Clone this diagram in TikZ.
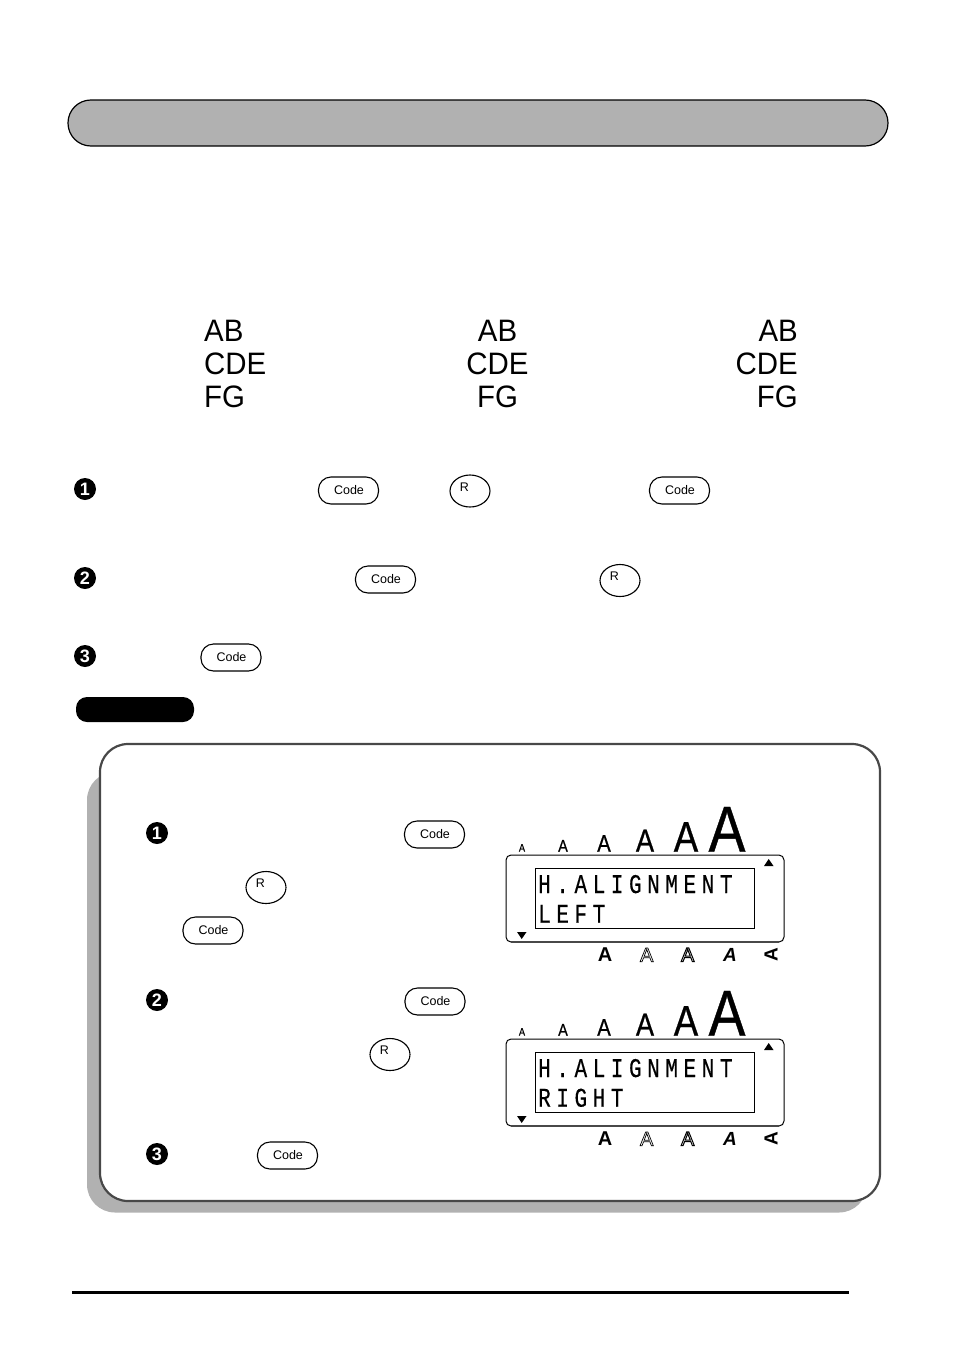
\documentclass[tikz,border=0pt]{standalone}
\usepackage{fontspec}
\usepackage{tikz}
\usetikzlibrary{shapes,positioning}
\setmainfont{Liberation Sans}
\newfontfamily\sizefont[FakeStretch=0.85,FakeBold=0.6]{Liberation Sans}
\newfontfamily\abcfont[FakeStretch=0.95]{Liberation Sans}
\newfontfamily\lcdfont[FakeStretch=0.78,FakeBold=0.3,LetterSpace=20.5]{Liberation Mono}
\newcommand{\fsz}[1]{\fontsize{#1}{#1}\selectfont}
\newcommand{\outlinetext}[2]{\special{pdf:code 1 Tr #1 w}#2\special{pdf:code 0 Tr 1 w}}
\newcommand{\rcap}{\smash{R}\kern11pt}
\newcommand{\codecap}{\kern1pt\raisebox{-0.5pt}{Code}}
\definecolor{bargray}{HTML}{B1B1B1}
\definecolor{rimgray}{HTML}{484848}
\tikzset{
  codekey/.style={draw=black,line width=1.1pt,fill=white,rectangle,rounded corners=12.5pt,minimum width=60pt,minimum height=27pt,inner sep=0pt,font=\fsz{12.5}},
  rkey/.style={draw=black,line width=1.1pt,fill=white,ellipse,minimum width=40pt,minimum height=32pt,inner sep=0pt,font=\fsz{12.5}},
  stepdot/.style={circle,fill=black,text=white,minimum size=22pt,inner sep=0pt,font=\bfseries\fsz{18}},
  glyph/.style={anchor=base,inner sep=0pt},
  abc/.style={inner sep=0pt,font=\abcfont\fsz{31}},
  lcdbox/.style={draw=black,line width=1pt,rounded corners=5pt},
  lcdrow/.style={anchor=base west,inner sep=0pt,font=\lcdfont\fsz{27}}
}
\begin{document}
\begin{tikzpicture}[x=1pt,y=-1pt]
\useasboundingbox (0,0) rectangle (954,1357);

% title bar
\draw [fill=bargray,line width=1.2pt,rounded corners=22.9pt] (68,100) rectangle (888,146);

% alignment samples
\node (ableft) [abc,anchor=base west] at (204,341) {AB};
\node (cdeleft) [abc,anchor=base west] at (204,374) {CDE};
\node (fgleft) [abc,anchor=base west] at (204,407) {FG};
\node (abmid) [abc,anchor=base] at (497.5,341) {AB};
\node (cdemid) [abc,anchor=base] at (497.5,374) {CDE};
\node (fgmid) [abc,anchor=base] at (497.5,407) {FG};
\node (abright) [abc,anchor=base east] at (798,341) {AB};
\node (cderight) [abc,anchor=base east] at (798,374) {CDE};
\node (fgright) [abc,anchor=base east] at (798,407) {FG};

% steps above the panel
\node (stepa) [stepdot] at (85,489) {1};
\node (stepb) [stepdot] at (85,578) {2};
\node (stepc) [stepdot] at (85,656) {3};
\node (codea) [codekey] at (348.5,490.5) {\codecap};
\node (ra) [rkey] at (470,491) {\rcap};
\node (codeb) [codekey] at (679.5,490.5) {\codecap};
\node (codec) [codekey] at (385.5,579.5) {\codecap};
\node (rb) [rkey] at (620,580.5) {\rcap};
\node (coded) [codekey] at (231,657.5) {\codecap};
\fill [rounded corners=11pt] (76,697) rectangle (194,722);

% panel with its shadow
\fill [bargray,rounded corners=28pt] (87,772) rectangle (867,1212.5);
\draw [fill=white,draw=rimgray,line width=2.2pt,rounded corners=28pt] (100,744) rectangle (880,1201);

\node (stepd) [stepdot] at (157,833) {1};
\node (stepe) [stepdot] at (157,1000) {2};
\node (stepf) [stepdot] at (157,1154) {3};
\node (codee) [codekey] at (434.5,834.5) {\codecap};
\node (rc) [rkey] at (266,887.5) {\rcap};
\node (codef) [codekey] at (213,930.5) {\codecap};
\node (codeg) [codekey] at (435,1001.5) {\codecap};
\node (rd) [rkey] at (390,1054.5) {\rcap};
\node (codeh) [codekey] at (287.5,1155.5) {\codecap};

% first display
\node (sizeaa) [glyph,font=\sizefont\fsz{11}] at (522,851.7) {A};
\node (sizeab) [glyph,font=\sizefont\fsz{17}] at (563,851.7) {A};
\node (sizeac) [glyph,font=\sizefont\fsz{24}] at (604,851.7) {A};
\node (sizead) [glyph,font=\sizefont\fsz{32}] at (645,851.7) {A};
\node (sizeae) [glyph,font=\sizefont\fsz{43}] at (686,851.7) {A};
\node (sizeaf) [glyph,font=\sizefont\fsz{65}] at (727,851.7) {A};
\draw [lcdbox] (506,855) rectangle (784,942);
\draw [rimgray,line width=1.6pt] (511,942) -- (779,942);
\draw [draw=black,line width=1pt] (535,868) rectangle (754.5,928);
\fill (768.7,859) -- (773.5,866) -- (764,866) -- cycle;
\fill (517,932) -- (526.5,932) -- (521.7,939) -- cycle;
\node (rowaa) [lcdrow] at (538,893) {H.ALIGNMENT};
\node (rowab) [lcdrow] at (538,922.7) {LEFT};
\node (stylaa) [glyph,font=\bfseries\fsz{20}] at (605,961.7) {A};
\node (stylab) [glyph,font=\fsz{20}] at (646.7,961.7) {\outlinetext{0.7}{A}};
\node (stylac) [glyph,font=\fsz{20}] at (687.7,961.7) {\outlinetext{1}{A}};
\node (stylad) [glyph,font=\itshape\bfseries\fsz{19}] at (730,961.7) {A};
\node (stylae) [anchor=center,inner sep=0pt,rotate=90,font=\bfseries\fsz{19}] at (771,955) {A};

% second display
\node (sizeba) [glyph,font=\sizefont\fsz{11}] at (522,1035.7) {A};
\node (sizebb) [glyph,font=\sizefont\fsz{17}] at (563,1035.7) {A};
\node (sizebc) [glyph,font=\sizefont\fsz{24}] at (604,1035.7) {A};
\node (sizebd) [glyph,font=\sizefont\fsz{32}] at (645,1035.7) {A};
\node (sizebe) [glyph,font=\sizefont\fsz{43}] at (686,1035.7) {A};
\node (sizebf) [glyph,font=\sizefont\fsz{65}] at (727,1035.7) {A};
\draw [lcdbox] (506,1039) rectangle (784,1126);
\draw [rimgray,line width=1.6pt] (511,1126) -- (779,1126);
\draw [draw=black,line width=1pt] (535,1052) rectangle (754.5,1112);
\fill (768.7,1043) -- (773.5,1050) -- (764,1050) -- cycle;
\fill (517,1116) -- (526.5,1116) -- (521.7,1123) -- cycle;
\node (rowba) [lcdrow] at (538,1077) {H.ALIGNMENT};
\node (rowbb) [lcdrow] at (538,1106.7) {RIGHT};
\node (stylba) [glyph,font=\bfseries\fsz{20}] at (605,1145.7) {A};
\node (stylbb) [glyph,font=\fsz{20}] at (646.7,1145.7) {\outlinetext{0.7}{A}};
\node (stylbc) [glyph,font=\fsz{20}] at (687.7,1145.7) {\outlinetext{1}{A}};
\node (stylbd) [glyph,font=\itshape\bfseries\fsz{19}] at (730,1145.7) {A};
\node (stylbe) [anchor=center,inner sep=0pt,rotate=90,font=\bfseries\fsz{19}] at (771,1139) {A};

\draw [line width=3pt] (72,1292) -- (849,1292);
\end{tikzpicture}
\end{document}
